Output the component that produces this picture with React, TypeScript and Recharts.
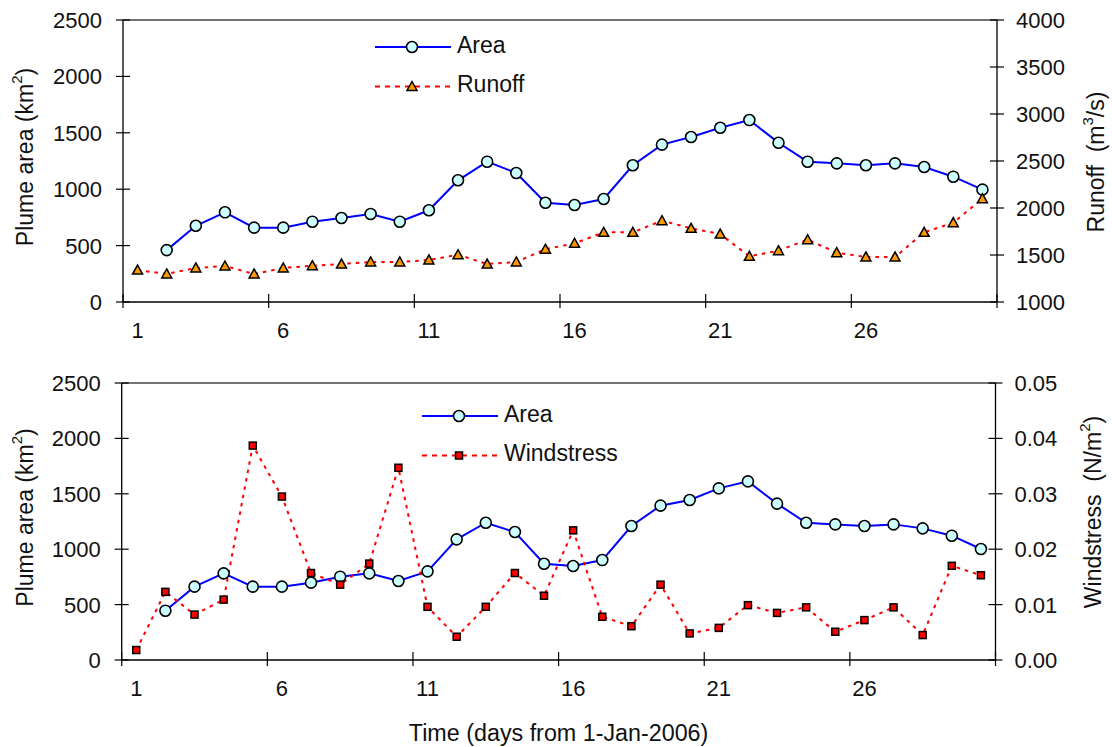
import React from 'react';
import { LineChart, Line, XAxis, YAxis, Legend, ReferenceLine } from 'recharts';

const FONT = '"Liberation Sans", Arial, Helvetica, sans-serif';

// ---------- data ----------
const days = [1, 2, 3, 4, 5, 6, 7, 8, 9, 10, 11, 12, 13, 14, 15, 16, 17, 18, 19, 20, 21, 22, 23, 24, 25, 26, 27, 28, 29, 30];
const areaTop = [null, 460, 676, 795, 659, 659, 712, 745, 780, 712, 813, 1079, 1244, 1144, 880, 860, 913, 1212, 1395, 1463, 1545, 1613, 1412, 1244, 1229, 1212, 1229, 1197, 1111, 996];
const runoff = [1340, 1298, 1362, 1383, 1298, 1362, 1386, 1404, 1426, 1426, 1447, 1503, 1404, 1426, 1562, 1624, 1741, 1741, 1865, 1784, 1723, 1486, 1546, 1663, 1525, 1479, 1479, 1741, 1844, 2099];
const areaBottom = [null, 445, 662, 782, 662, 662, 698, 752, 782, 713, 800, 1089, 1239, 1155, 869, 848, 902, 1209, 1393, 1444, 1549, 1612, 1411, 1239, 1224, 1209, 1224, 1188, 1122, 1002];
const windstress = [0.0018, 0.0123, 0.0082, 0.0109, 0.0387, 0.0295, 0.0157, 0.0136, 0.0174, 0.0347, 0.0096, 0.0042, 0.0096, 0.0157, 0.0116, 0.0234, 0.0078, 0.0061, 0.0136, 0.0048, 0.0058, 0.0099, 0.0085, 0.0095, 0.0051, 0.0072, 0.0095, 0.0045, 0.0170, 0.0153];

const xLabelDays = [1, 6, 11, 16, 21, 26];
const xTickMarks = [0.5, 5.5, 10.5, 15.5, 20.5, 25.5, 30.5];
const areaTicks = [0, 500, 1000, 1500, 2000, 2500];
const runoffTicks = [1000, 1500, 2000, 2500, 3000, 3500, 4000];
const windTicks = [0, 0.01, 0.02, 0.03, 0.04, 0.05];

const topData = days.map((d, i) => ({ day: d, area: areaTop[i], runoff: runoff[i] }));
const bottomData = days.map((d, i) => ({ day: d, area: areaBottom[i], wind: windstress[i] }));
const xTicks = [...xTickMarks, ...xLabelDays].sort((a, b) => a - b);

const BLUE = '#0000FF';
const RED = '#FF0000';
const TICK_FS = 22;

// ---------- ticks ----------
const XTick = (props: any) => {
  const { x, y, payload } = props;
  const v = payload.value;
  if (xTickMarks.includes(v)) {
    return <line x1={x} x2={x} y1={y - 8} y2={y + 6} stroke="#000" strokeWidth={1.2} />;
  }
  return (
    <text x={x} y={y + 36} textAnchor="middle" fontSize={TICK_FS} fontFamily={FONT} fill="#111">
      {v}
    </text>
  );
};

const LeftTick = (props: any) => {
  const { x, y, payload } = props;
  return (
    <g>
      <line x1={x - 7} x2={x + 7} y1={y} y2={y} stroke="#000" strokeWidth={1.2} />
      <text x={x - 21} y={y} dy="0.36em" textAnchor="end" fontSize={TICK_FS} fontFamily={FONT} fill="#111">
        {payload.value}
      </text>
    </g>
  );
};

const makeRightTick = (fmt: (v: number) => string) => (props: any) => {
  const { x, y, payload } = props;
  return (
    <g>
      <line x1={x - 7} x2={x + 7} y1={y} y2={y} stroke="#000" strokeWidth={1.2} />
      <text x={x + 19} y={y} dy="0.36em" textAnchor="start" fontSize={TICK_FS} fontFamily={FONT} fill="#111">
        {fmt(payload.value)}
      </text>
    </g>
  );
};
const RunoffTick = makeRightTick((v) => String(v));
const WindTick = makeRightTick((v) => v.toFixed(2));

// ---------- markers ----------
const CircleDot = (props: any) => {
  const { cx, cy, index } = props;
  if (cx == null || cy == null) return <g key={`c${index}`} />;
  return <circle key={`c${index}`} cx={cx} cy={cy} r={5.5} fill="#CCFFFF" stroke="#000" strokeWidth={1.6} />;
};
const TriDot = (props: any) => {
  const { cx, cy, index } = props;
  if (cx == null || cy == null) return <g key={`t${index}`} />;
  return (
    <polygon
      key={`t${index}`}
      points={`${cx},${cy - 5} ${cx + 5},${cy + 4} ${cx - 5},${cy + 4}`}
      fill="#FF9900"
      stroke="#000"
      strokeWidth={1.5}
      strokeLinejoin="miter"
    />
  );
};
const SqDot = (props: any) => {
  const { cx, cy, index } = props;
  if (cx == null || cy == null) return <g key={`s${index}`} />;
  return <rect key={`s${index}`} x={cx - 3.5} y={cy - 3.5} width={7} height={7} fill={RED} stroke="#000" strokeWidth={1.5} />;
};

// ---------- titles ----------
const VTitle = ({ x, y, children }: { x: number; y: number; children: React.ReactNode }) => (
  <text
    x={x}
    y={y}
    transform={`rotate(-90 ${x} ${y})`}
    textAnchor="middle"
    dominantBaseline="central"
    fontSize={23}
    fontFamily={FONT}
    fill="#111"
    style={{ whiteSpace: 'pre' }}
  >
    {children}
  </text>
);

const PlumeTitle = (p: any) => {
  const vb = p.viewBox;
  return (
    <VTitle x={vb.x + 25} y={vb.y + vb.height / 2 - 4}>
      Plume area (km<tspan dy={-9} fontSize={15}>2</tspan>
      <tspan dy={9}>)</tspan>
    </VTitle>
  );
};
const RunoffTitle = (p: any) => {
  const vb = p.viewBox;
  return (
    <VTitle x={vb.x + 99} y={vb.y + vb.height / 2 + 1}>
      {'Runoff  (m'}
      <tspan dy={-9} fontSize={15}>3</tspan>
      <tspan dy={9}>/s)</tspan>
    </VTitle>
  );
};
const WindTitle = (p: any) => {
  const vb = p.viewBox;
  return (
    <VTitle x={vb.x + 97} y={vb.y + vb.height / 2 - 9.5}>
      {'Windstress  (N/m'}
      <tspan dy={-9} fontSize={15}>2</tspan>
      <tspan dy={9}>)</tspan>
    </VTitle>
  );
};
const TimeTitle = (p: any) => {
  const vb = p.viewBox;
  return (
    <text x={vb.x + vb.width / 2} y={vb.y + 81} textAnchor="middle" fontSize={23.3} fontFamily={FONT} fill="#111">
      Time (days from 1-Jan-2006)
    </text>
  );
};

// ---------- legend ----------
const makeLegend = (second: 'runoff' | 'wind') => (props: any) => {
  const payload = props.payload || [];
  const names: Record<string, string> = {};
  payload.forEach((e: any) => {
    names[e.dataKey] = e.value;
  });
  return (
    <svg width={290} height={80} style={{ display: 'block', overflow: 'visible' }}>
      <line x1={5} x2={81} y1={20} y2={20} stroke={BLUE} strokeWidth={2} />
      <circle cx={42} cy={20} r={5.5} fill="#CCFFFF" stroke="#000" strokeWidth={1.6} />
      <text x={87} y={18} dy="0.36em" fontSize={23} fontFamily={FONT} fill="#111">
        {names['area'] || 'Area'}
      </text>
      <line x1={5} x2={81} y1={59.5} y2={59.5} stroke={RED} strokeWidth={2} strokeDasharray="5 5" />
      {second === 'runoff' ? (
        <polygon points="42,54.5 47,63.5 37,63.5" fill="#FF9900" stroke="#000" strokeWidth={1.5} />
      ) : (
        <rect x={38.5} y={56} width={7} height={7} fill={RED} stroke="#000" strokeWidth={1.5} />
      )}
      <text x={87} y={56.5} dy="0.36em" fontSize={23} fontFamily={FONT} fill="#111">
        {second === 'runoff' ? names['runoff'] || 'Runoff' : names['wind'] || 'Windstress'}
      </text>
    </svg>
  );
};
const TopLegend = makeLegend('runoff');
const BottomLegend = makeLegend('wind');

export default function App() {
  return (
    <div style={{ position: 'absolute', left: 0, top: 0, width: 1112, height: 747, background: '#fff', fontFamily: FONT }}>
      <div style={{ position: 'absolute', left: 0, top: 0 }}>
        <LineChart width={1112} height={360} data={topData} margin={{ top: 20, right: 0, bottom: 0, left: 0 }}>
          <XAxis
            dataKey="day"
            type="number"
            domain={[0.5, 30.5]}
            ticks={xTicks}
            interval={0}
            tickSize={0}
            tickMargin={0}
            tickLine={false}
            tick={<XTick />}
            height={58}
            axisLine={{ stroke: '#000', strokeWidth: 1.3 }}
          />
          <YAxis
            yAxisId="left"
            domain={[0, 2500]}
            ticks={areaTicks}
            interval={0}
            width={123}
            tickSize={0}
            tickMargin={0}
            tickLine={false}
            tick={<LeftTick />}
            axisLine={{ stroke: '#000', strokeWidth: 1.3 }}
            label={PlumeTitle}
          />
          <YAxis
            yAxisId="right"
            orientation="right"
            domain={[1000, 4000]}
            ticks={runoffTicks}
            interval={0}
            width={115}
            tickSize={0}
            tickMargin={0}
            tickLine={false}
            tick={<RunoffTick />}
            axisLine={{ stroke: '#000', strokeWidth: 1.3 }}
            label={RunoffTitle}
          />
          <ReferenceLine yAxisId="left" y={2500} stroke="#444" strokeWidth={1.3} ifOverflow="visible" />
          <Legend layout="vertical" align="center" verticalAlign="middle" content={TopLegend} wrapperStyle={{ position: 'absolute', left: 370, top: 27, width: 290, height: 80 }} />
          <Line yAxisId="left" name="Area" type="linear" dataKey="area" stroke={BLUE} strokeWidth={2} dot={CircleDot} activeDot={false} isAnimationActive={false} />
          <Line yAxisId="right" name="Runoff" type="linear" dataKey="runoff" stroke={RED} strokeWidth={2} strokeDasharray="3.5 5" dot={TriDot} activeDot={false} isAnimationActive={false} />
        </LineChart>
      </div>
      <div style={{ position: 'absolute', left: 0, top: 360 }}>
        <LineChart width={1112} height={387} data={bottomData} margin={{ top: 23, right: 0, bottom: 0, left: 0 }}>
          <XAxis
            dataKey="day"
            type="number"
            domain={[0.5, 30.5]}
            ticks={xTicks}
            interval={0}
            tickSize={0}
            tickMargin={0}
            tickLine={false}
            tick={<XTick />}
            height={87}
            axisLine={{ stroke: '#000', strokeWidth: 1.3 }}
            label={TimeTitle}
          />
          <YAxis
            yAxisId="left"
            domain={[0, 2500]}
            ticks={areaTicks}
            interval={0}
            width={121.7}
            tickSize={0}
            tickMargin={0}
            tickLine={false}
            tick={<LeftTick />}
            axisLine={{ stroke: '#000', strokeWidth: 1.3 }}
            label={PlumeTitle}
          />
          <YAxis
            yAxisId="right"
            orientation="right"
            domain={[0, 0.05]}
            ticks={windTicks}
            interval={0}
            width={116.5}
            tickSize={0}
            tickMargin={0}
            tickLine={false}
            tick={<WindTick />}
            axisLine={{ stroke: '#000', strokeWidth: 1.3 }}
            label={WindTitle}
          />
          <ReferenceLine yAxisId="left" y={2500} stroke="#444" strokeWidth={1.3} ifOverflow="visible" />
          <Legend layout="vertical" align="center" verticalAlign="middle" content={BottomLegend} wrapperStyle={{ position: 'absolute', left: 417, top: 36, width: 290, height: 80 }} />
          <Line yAxisId="left" name="Area" type="linear" dataKey="area" stroke={BLUE} strokeWidth={2} dot={CircleDot} activeDot={false} isAnimationActive={false} />
          <Line yAxisId="right" name="Windstress" type="linear" dataKey="wind" stroke={RED} strokeWidth={2} strokeDasharray="3.5 5" dot={SqDot} activeDot={false} isAnimationActive={false} />
        </LineChart>
      </div>
    </div>
  );
}
